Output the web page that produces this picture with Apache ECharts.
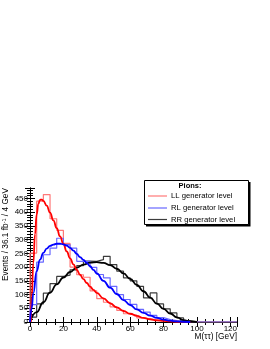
<!DOCTYPE html>
<html><head><meta charset="utf-8">
<script src="https://cdn.jsdelivr.net/npm/echarts@6/dist/echarts.min.js"></script>
<style>html,body{margin:0;padding:0;background:#fff}#c{width:270px;height:349px}</style>
</head><body><div id="c"></div>
<script>
// Bin low edges (4 GeV bins)
var binLow = [0,4,8,12,16,20,24,28,32,36,40,44,48,52,56,60,64,68,72,76,80,84,88,92,96,100,104,108,112,116,120];
var xMax = 124;
// Histograms (generator level)
var histLL = [251,440,464,376,334,286,200,172,163,113,85,72,55,42,30,25,15,11,8,5,3,2,1,0,0,0,0,0,0,0,0];
var histRL = [63,218,245,269,305,282,269,221,221,199,173,161,130,100,82,64,46,36,24,16,9,5,3,1,0,0,0,0,0,0,0];
var histRR = [18,66,105,140,166,171,190,205,222,221,227,239,209,185,161,150,130,88,106,66,48,33,15,5,1,0,0,0,0,0,0];
// Fit curves: x (GeV) and y values
var fitLLx = [0.5,1,2,3,4,5,6,7,8,10,12,14,16,18,20,22,24,26,28,30,32,34,36,38,40,44,48,52,56,60,64,68,72,76,80,84,88,92,96];
var fitLLy = [0,90,215,320,392,430,445,446,441,424,398,370,342,312,284,257,232,210,190,172,156,142,129,117,106,86,68,53,40,30,22,15,10,6,4,2,1,0.5,0];
var fitRLx = [0,1,2,4,6,8,10,12,14,16,18,20,22,24,26,28,30,32,34,36,38,40,44,48,52,56,60,64,68,72,76,80,84,88,92,96];
var fitRLy = [0,50,105,185,227,252,267,277,282,285,285,283,278,270,260,248,236,226,215,203,190,177,150,125,102,80,62,46,33,23,15,9,5,2,1,0];
var fitRRx = [0,4,8,12,16,20,24,28,32,36,40,44,48,52,56,60,64,68,72,76,80,84,88,92,96,100];
var fitRRy = [0,36,72,107,137,162,182,198,209,216,218,215,207,194,177,157,135,112,89,67,48,31,17,7,2,0];
var yTicks = [0,50,100,150,200,250,300,350,400,450];
var xTicks = [0,20,40,60,80,100,120];
var legendTitle = 'Pions:';
var legendNames = ['LL generator level','RL generator level','RR generator level'];

var FONT = '"Liberation Sans", Arial, Helvetica, sans-serif';
var cHistLL = '#ff7878', cHistRL = '#6868ff', cHistRR = '#3c3c3c';
var cFitLL = '#ff0000', cFitRL = '#0000ff', cFitRR = '#000000';

function histData(v){
  var d = [[binLow[0],0]];
  for (var i=0;i<v.length;i++) d.push([binLow[i], v[i]]);
  d.push([xMax, v[v.length-1]]);
  return d;
}
function curveData(xs, ys){ return xs.map(function(x,i){return [x, ys[i]];}); }

var chart = echarts.init(document.getElementById('c'), null, {renderer:'canvas'});
var axisCommon = {
  axisLine:{show:true, lineStyle:{color:'#000', width:1}},
  splitLine:{show:false},
  axisTick:{show:true, inside:true, length:5, lineStyle:{color:'#000'}}
};
var option = {
  animation:false,
  backgroundColor:'#fff',
  grid:{left:30, right:33, top:188, bottom:27, containLabel:false},
  xAxis:[
    Object.assign({type:'value', min:0, max:xMax, interval:20, position:'bottom',
      axisLabel:{fontFamily:FONT, fontSize:8, color:'#000', margin:3,
        formatter:function(v){return xTicks.indexOf(v)>=0 ? String(v) : '';}}}, axisCommon,
      {minorTick:{show:true, splitNumber:4, length:3, lineStyle:{color:'#000'}}}),
    Object.assign({type:'value', min:0, max:xMax, interval:20, position:'top', axisLabel:{show:false}}, axisCommon,
      {minorTick:{show:true, splitNumber:4, length:3, lineStyle:{color:'#000'}}})
  ],
  yAxis:[
    Object.assign({type:'value', min:0, max:488, interval:50, position:'left',
      axisLabel:{fontFamily:FONT, fontSize:8, color:'#000', margin:2,
        formatter:function(v){return yTicks.indexOf(v)>=0 ? String(v) : '';}}}, axisCommon,
      {minorTick:{show:true, splitNumber:5, length:3, lineStyle:{color:'#000'}}}),
    Object.assign({type:'value', min:0, max:488, interval:50, position:'right', axisLabel:{show:false}}, axisCommon,
      {minorTick:{show:true, splitNumber:5, length:3, lineStyle:{color:'#000'}}})
  ],
  series:[
    {type:'line', step:'end', data:histData(histRR), symbol:'none', lineStyle:{color:cHistRR, width:1.2}, z:2},
    {type:'line', step:'end', data:histData(histLL), symbol:'none', lineStyle:{color:cHistLL, width:1.2}, z:2},
    {type:'line', step:'end', data:histData(histRL), symbol:'none', lineStyle:{color:cHistRL, width:1.2}, z:2},
    {type:'line', smooth:true, smoothMonotone:'x', data:curveData(fitRRx, fitRRy), symbol:'none', lineStyle:{color:cFitRR, width:1.8}, z:3},
    {type:'line', smooth:true, smoothMonotone:'x', data:curveData(fitLLx, fitLLy), symbol:'none', lineStyle:{color:cFitLL, width:1.8}, z:3},
    {type:'line', smooth:true, smoothMonotone:'x', data:curveData(fitRLx, fitRLy), symbol:'none', lineStyle:{color:cFitRL, width:1.8}, z:3}
  ],
  graphic:[
    {type:'text', x:6, y:188, rotation:Math.PI/2, z:10,
      style:{text:'Events / 36.1 fb{s|-1} / 4 GeV', fontFamily:FONT, fontSize:8.3, fill:'#000',
        align:'right', verticalAlign:'middle',
        rich:{s:{fontSize:5.5, fontFamily:FONT, fill:'#000', padding:[0,0,4,0]}}}},
    {type:'text', x:237, y:337, z:10,
      style:{text:'M(\u03c4\u03c4) [GeV]', fontFamily:FONT, fontSize:8.3, fill:'#000', align:'right', verticalAlign:'middle'}},
    // legend shadow + box
    {type:'rect', shape:{x:146, y:182, width:104.5, height:44.5}, style:{fill:'#000'}, z:20},
    {type:'rect', shape:{x:144.5, y:180.5, width:104, height:44}, style:{fill:'#fff', stroke:'#000', lineWidth:1}, z:21},
    {type:'text', x:190, y:185.5, z:22, style:{text:legendTitle, fontFamily:FONT, fontSize:7.5, fontWeight:'bold', fill:'#000', align:'center', verticalAlign:'middle'}},
    {type:'line', shape:{x1:148, y1:196, x2:167, y2:196}, style:{stroke:cHistLL, lineWidth:1.2}, z:22},
    {type:'line', shape:{x1:148, y1:208, x2:167, y2:208}, style:{stroke:cHistRL, lineWidth:1.2}, z:22},
    {type:'line', shape:{x1:148, y1:219.5, x2:167, y2:219.5}, style:{stroke:cHistRR, lineWidth:1.2}, z:22},
    {type:'text', x:171, y:196, z:22, style:{text:legendNames[0], fontFamily:FONT, fontSize:7.7, fill:'#000', align:'left', verticalAlign:'middle'}},
    {type:'text', x:171, y:208, z:22, style:{text:legendNames[1], fontFamily:FONT, fontSize:7.7, fill:'#000', align:'left', verticalAlign:'middle'}},
    {type:'text', x:171, y:219.5, z:22, style:{text:legendNames[2], fontFamily:FONT, fontSize:7.7, fill:'#000', align:'left', verticalAlign:'middle'}}
  ]
};
chart.setOption(option);
</script></body></html>
